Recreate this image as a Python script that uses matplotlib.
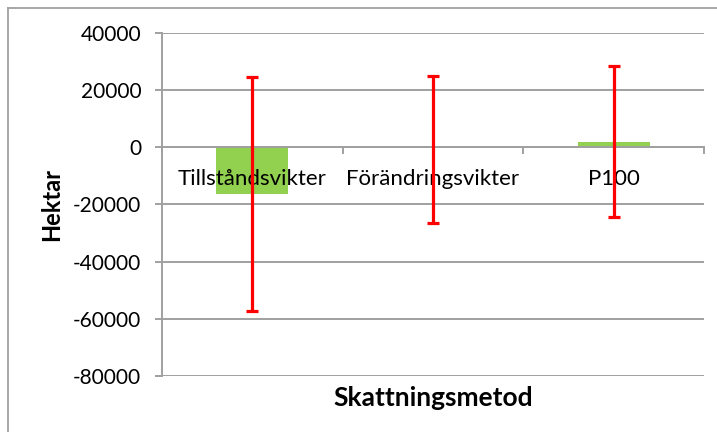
import numpy as np
import matplotlib
matplotlib.use("Agg")
import matplotlib.pyplot as plt
from matplotlib.lines import Line2D

plt.rcParams['font.family'] = ['Lato', 'DejaVu Sans']

# data
categories = ['Tillståndsvikter', 'Förändringsvikter', 'P100']
values = [-16400, -300, 1900]
err_upper = [24500, 25000, 28500]
err_lower = [-57200, -26500, -24500]

yticks = [40000, 20000, 0, -20000, -40000, -60000, -80000]

fig = plt.figure(figsize=(7.17, 4.32), dpi=100)
ax = fig.add_axes([162 / 717, 1 - 376 / 432, (704 - 162) / 717, (376 - 33) / 432])

x = np.arange(len(categories))
vals = np.array(values)
yerr = np.array([vals - np.array(err_lower), np.array(err_upper) - vals])

ax.bar(x, vals, width=0.4, color='#92D050', zorder=2)
ax.errorbar(x, vals, yerr=yerr, fmt='none', ecolor='#FF0000', elinewidth=2.3,
            capsize=4.5, capthick=2.3, zorder=4)

ax.set_xlim(-0.5, len(categories) - 0.5)
ax.set_ylim(-80000, 40000)
ax.set_yticks(yticks)
ax.set_yticklabels([str(t) for t in yticks])
ax.yaxis.grid(True, color='#a0a0a0', linewidth=1.4, zorder=0)
ax.set_axisbelow(True)

for side in ['top', 'right']:
    ax.spines[side].set_visible(False)
ax.spines['left'].set_color('#a0a0a0')
ax.spines['left'].set_linewidth(1.4)
ax.spines['bottom'].set_position(('data', 0))
ax.spines['bottom'].set_color('#a0a0a0')
ax.spines['bottom'].set_linewidth(1.4)

ax.tick_params(axis='y', length=5, width=1.4, color='#a0a0a0', labelsize=15, pad=10)
ax.set_xticks(np.arange(len(categories) + 1) - 0.5)
ax.set_xticklabels([])
ax.tick_params(axis='x', which='major', length=5, width=1.4, color='#a0a0a0', direction='out')

# category labels sit on top of the bars, just under the zero line
for xi, name in zip(x, categories):
    ax.annotate(name, xy=(xi, 0), xytext=(0, -23), textcoords='offset points',
                ha='center', va='center', fontsize=16, zorder=3)

ax.set_ylabel('Hektar', fontsize=17, fontweight='bold', labelpad=7)
fig.text(433 / 717, 1 - 398 / 432, 'Skattningsmetod', fontsize=19, fontweight='bold',
         ha='center', va='center')

# outer chart border
fig.add_artist(Line2D([7.5 / 717, 1], [1 - 8 / 432, 1 - 8 / 432], color='#a0a0a0', lw=1.3,
                      transform=fig.transFigure))
fig.add_artist(Line2D([7.5 / 717, 7.5 / 717], [0, 1 - 8 / 432], color='#a0a0a0', lw=1.3,
                      transform=fig.transFigure))

fig.savefig('out.png', dpi=100)
